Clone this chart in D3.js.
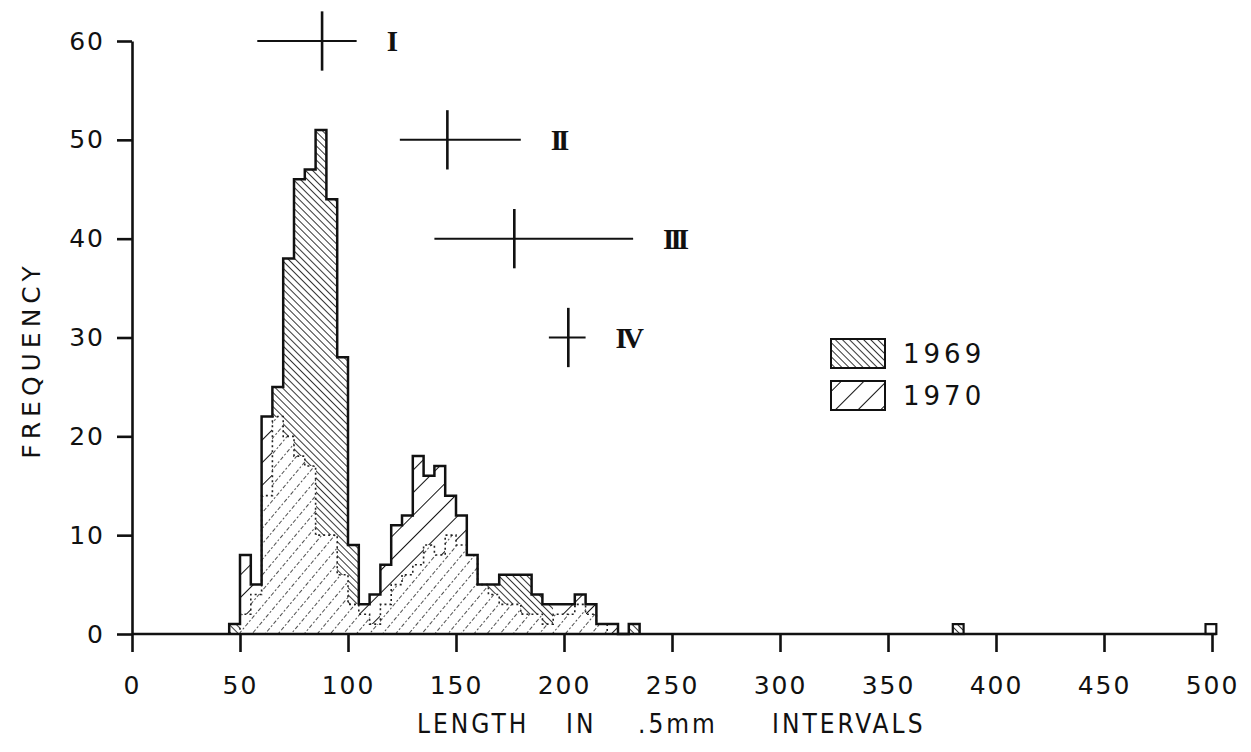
<!DOCTYPE html>
<html>
<head>
<meta charset="utf-8">
<script src="https://cdn.jsdelivr.net/npm/d3@7"></script>
<style>
  body { margin: 0; background: #fff; }
  svg { display: block; }
  text { font-family: "DejaVu Sans", sans-serif; fill: #111; }
</style>
</head>
<body>
<svg id="chart" width="1251" height="752"></svg>
<script>
// 5mm length classes (bin start), main block
const binStarts = [45, 50, 55, 60, 65, 70, 75, 80, 85, 90, 95, 100, 105, 110, 115, 120, 125, 130, 135, 140,
                   145, 150, 155, 160, 165, 170, 175, 180, 185, 190, 195, 200, 205, 210, 215, 220, 225, 230];
const freq1969 = [1, 2, 4, 14, 25, 38, 46, 47, 51, 44, 28, 9, 2, 1, 3, 5, 6, 7, 9, 8,
                  10, 9, 8, 5, 5, 6, 6, 6, 4, 3, 2, 2, 3, 2, 1, 0, 0, 1];
const freq1970 = [0, 8, 5, 22, 22, 20, 18, 17, 10, 10, 6, 3, 3, 4, 7, 11, 12, 18, 16, 17,
                  14, 12, 8, 5, 4, 3, 3, 2, 2, 1, 3, 3, 4, 3, 1, 1, 0, 0];
const binWidth = 5;

// isolated large fish
const outlierStarts = [380, 497];
const outlier1969 = [1, 0];
const outlier1970 = [0, 1];

// age group means and ranges
const ageLabels = ["I", "II", "III", "IV"];
const ageFreqLevel = [60, 50, 40, 30];
const ageMean = [88, 146, 177, 202];
const ageLow = [58, 124, 140, 193];
const ageHigh = [104, 180, 232, 210];

const xTicks = [0, 50, 100, 150, 200, 250, 300, 350, 400, 450, 500];
const yTicks = [0, 10, 20, 30, 40, 50, 60];
const legendYears = ["1969", "1970"];

const svg = d3.select("#chart");
const x = d3.scaleLinear().domain([0, 500]).range([132, 1212]);
const y = d3.scaleLinear().domain([0, 60]).range([634, 41]);

// hatch patterns ----------
const defs = svg.append("defs");
const p69 = defs.append("pattern").attr("id", "h69").attr("patternUnits", "userSpaceOnUse")
    .attr("width", 5).attr("height", 5).attr("patternTransform", "rotate(-45)");
p69.append("line").attr("x1", 0).attr("y1", 0).attr("x2", 0).attr("y2", 5)
    .attr("stroke", "#111").attr("stroke-width", 1.7);

const p70 = defs.append("pattern").attr("id", "h70").attr("patternUnits", "userSpaceOnUse")
    .attr("width", 16).attr("height", 16).attr("patternTransform", "rotate(45)");
p70.append("line").attr("x1", 0).attr("y1", 0).attr("x2", 0).attr("y2", 16)
    .attr("stroke", "#111").attr("stroke-width", 2);

const pOv = defs.append("pattern").attr("id", "hov").attr("patternUnits", "userSpaceOnUse")
    .attr("width", 10).attr("height", 10).attr("patternTransform", "rotate(40)");
pOv.append("line").attr("x1", 0).attr("y1", 0).attr("x2", 0).attr("y2", 10)
    .attr("stroke", "#222").attr("stroke-width", 1.6).attr("stroke-dasharray", "2,2");

const bins = binStarts.map((b, i) => ({ b: b, a: freq1969[i], c: freq1970[i] }));

// overlap (both years) ----------
svg.append("g").selectAll("rect.ov")
    .data(bins.filter(d => Math.min(d.a, d.c) > 0))
    .enter().append("rect")
    .attr("x", d => x(d.b))
    .attr("width", d => x(d.b + binWidth) - x(d.b))
    .attr("y", d => y(Math.min(d.a, d.c)))
    .attr("height", d => y(0) - y(Math.min(d.a, d.c)))
    .attr("shape-rendering", "crispEdges")
    .style("fill", "url(#hov)");

// 1969 above 1970
svg.append("g").selectAll("rect.a")
    .data(bins.filter(d => d.a > d.c))
    .enter().append("rect")
    .attr("x", d => x(d.b))
    .attr("width", d => x(d.b + binWidth) - x(d.b))
    .attr("y", d => y(d.a))
    .attr("height", d => y(d.c) - y(d.a))
    .attr("shape-rendering", "crispEdges")
    .style("fill", "url(#h69)");

// 1970 above 1969
svg.append("g").selectAll("rect.c")
    .data(bins.filter(d => d.c > d.a))
    .enter().append("rect")
    .attr("x", d => x(d.b))
    .attr("width", d => x(d.b + binWidth) - x(d.b))
    .attr("y", d => y(d.c))
    .attr("height", d => y(d.a) - y(d.c))
    .attr("shape-rendering", "crispEdges")
    .style("fill", "url(#h70)");

// outlines ----------
const stepLine = d3.line().x(d => x(d[0])).y(d => y(d[1])).curve(d3.curveStepAfter);
function stepPoints(vals) {
    const pts = [[binStarts[0], 0]];
    binStarts.forEach((b, i) => pts.push([b, vals[i]]));
    pts.push([binStarts[binStarts.length - 1] + binWidth, 0]);
    return pts;
}
const lower = bins.map(d => Math.min(d.a, d.c));
const upper = bins.map(d => Math.max(d.a, d.c));

svg.append("path").attr("d", stepLine(stepPoints(lower)))
    .attr("fill", "none").attr("stroke", "#222").attr("stroke-width", 1.6)
    .attr("stroke-dasharray", "2,3");
svg.append("path").attr("d", stepLine(stepPoints(upper)))
    .attr("fill", "none").attr("stroke", "#111").attr("stroke-width", 2.5);

// outliers
const outl = outlierStarts.map((b, i) => ({ b: b, a: outlier1969[i], c: outlier1970[i] }));
svg.append("g").selectAll("rect.o")
    .data(outl)
    .enter().append("rect")
    .attr("x", d => x(d.b))
    .attr("width", d => x(d.b + binWidth) - x(d.b))
    .attr("y", d => y(Math.max(d.a, d.c)))
    .attr("height", d => y(0) - y(Math.max(d.a, d.c)))
    .style("fill", d => d.a > 0 ? "url(#h69)" : "#fff")
    .attr("stroke", "#111").attr("stroke-width", 2.2);

// axes ----------
const xAxis = svg.append("g").attr("transform", `translate(0,${y(0)})`)
    .call(d3.axisBottom(x).tickValues(xTicks).tickSize(18).tickPadding(24).tickSizeOuter(0));
const yAxis = svg.append("g").attr("transform", `translate(${x(0)},0)`)
    .call(d3.axisLeft(y).tickValues(yTicks).tickSize(15).tickPadding(12).tickSizeOuter(0));

[xAxis, yAxis].forEach(g => {
    g.select(".domain").attr("stroke", "#111").attr("stroke-width", 2.6);
    g.selectAll(".tick line").attr("stroke", "#111").attr("stroke-width", 2.6);
    g.selectAll(".tick text").style("font-size", "25px").style("letter-spacing", "2px")
        .style("fill", "#111");
});
xAxis.select(".domain").attr("d", `M${x(0)},0H${x(502)}`);

// age-group crosses ----------
const cross = svg.append("g");
ageLabels.forEach((lab, i) => {
    const cy = y(ageFreqLevel[i]);
    cross.append("line").attr("x1", x(ageLow[i])).attr("x2", x(ageHigh[i]))
        .attr("y1", cy).attr("y2", cy).attr("stroke", "#111").attr("stroke-width", 2);
    cross.append("line").attr("x1", x(ageMean[i])).attr("x2", x(ageMean[i]))
        .attr("y1", y(ageFreqLevel[i] + 3)).attr("y2", y(ageFreqLevel[i] - 3))
        .attr("stroke", "#111").attr("stroke-width", 2.6);
    cross.append("text").attr("x", x(ageHigh[i]) + 30).attr("y", cy + 10)
        .style("font-family", "'Liberation Serif', serif").style("font-weight", "bold")
        .style("font-size", "29px").style("letter-spacing", "-4px")
        .text(lab);
});

// legend ----------
const legend = svg.append("g");
legendYears.forEach((yr, i) => {
    legend.append("rect").attr("x", 831).attr("y", 339 + i * 42)
        .attr("width", 54).attr("height", 29)
        .style("fill", i === 0 ? "url(#h69)" : "url(#h70)")
        .attr("stroke", "#111").attr("stroke-width", 2);
    legend.append("text").attr("x", 903).attr("y", 363 + i * 42)
        .style("font-size", "26px").style("letter-spacing", "4px")
        .text(yr);
});

// axis titles ----------
svg.append("text").attr("transform", "translate(40,360) rotate(-90)")
    .attr("text-anchor", "middle")
    .style("font-size", "25px").style("letter-spacing", "5px")
    .text("FREQUENCY");

const xTitle = [["LENGTH", 417], ["IN", 566], [".5mm", 638], ["INTERVALS", 772]];
xTitle.forEach(w => {
    svg.append("text").attr("x", w[1]).attr("y", 733)
        .style("font-family", "'DejaVu Sans Condensed', 'DejaVu Sans', sans-serif")
        .style("font-size", "26px").style("letter-spacing", "3px")
        .text(w[0]);
});
</script>
</body>
</html>
